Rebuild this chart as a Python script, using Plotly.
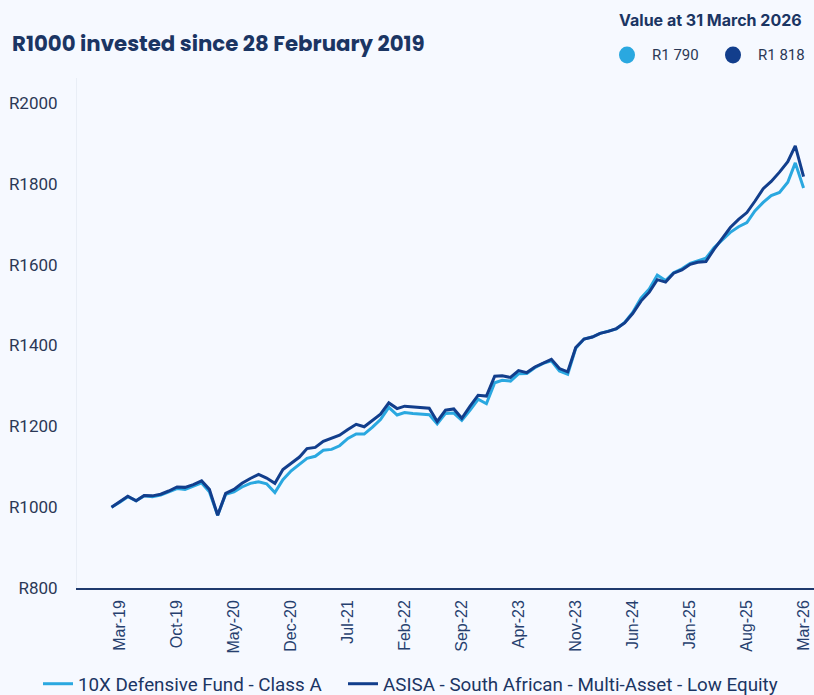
import pandas as pd
import plotly.graph_objects as go

# Month-end dates, Feb 2019 .. Mar 2026
dates = pd.date_range("2019-02-28", "2026-03-31", freq="ME")

fund_10x = [1000, 1012, 1026, 1016, 1028, 1026, 1030, 1037, 1046, 1044,
            1052, 1060, 1038, 980, 1032, 1038, 1050, 1059, 1063, 1058,
            1036, 1068, 1090, 1106, 1121, 1126, 1141, 1143, 1152, 1170,
            1181, 1181, 1198, 1217, 1247, 1228, 1234, 1232, 1230, 1229,
            1206, 1232, 1233, 1215, 1240, 1267, 1256, 1308, 1314, 1312,
            1330, 1331, 1345, 1356, 1362, 1337, 1329, 1393, 1416, 1421,
            1430, 1436, 1441, 1457, 1482, 1517, 1540, 1574, 1561, 1580,
            1590, 1603, 1610, 1616, 1642, 1661, 1680, 1694, 1704, 1733,
            1754, 1771, 1779, 1804, 1852, 1790]

asisa = [1000, 1013, 1027, 1016, 1029, 1028, 1032, 1040, 1050, 1049,
         1056, 1065, 1044, 980, 1034, 1044, 1059, 1071, 1081, 1072,
         1059, 1093, 1108, 1124, 1145, 1148, 1163, 1170, 1178, 1192,
         1205, 1199, 1215, 1230, 1258, 1244, 1250, 1248, 1246, 1245,
         1212, 1240, 1243, 1220, 1250, 1277, 1275, 1324, 1325, 1321,
         1338, 1333, 1347, 1357, 1366, 1343, 1335, 1395, 1416, 1421,
         1430, 1435, 1442, 1456, 1479, 1510, 1532, 1563, 1557, 1579,
         1587, 1601, 1606, 1608, 1638, 1665, 1692, 1712, 1729, 1757,
         1788, 1806, 1829, 1855, 1894, 1818]

series_names = ["10X Defensive Fund - Class A",
                "ASISA - South African - Multi-Asset - Low Equity"]
final_labels = ["R1 790", "R1 818"]

x_tick_labels = ["Mar-19", "Oct-19", "May-20", "Dec-20", "Jul-21", "Feb-22",
                 "Sep-22", "Apr-23", "Nov-23", "Jun-24", "Jan-25", "Aug-25",
                 "Mar-26"]
x_tick_vals = [dates[1 + 7 * k] for k in range(len(x_tick_labels))]

y_tick_vals = [800, 1000, 1200, 1400, 1600, 1800, 2000]
y_tick_labels = ["R800", "R1000", "R1200", "R1400", "R1600", "R1800", "R2000"]

LIGHT = "#2AA8E0"
DARK = "#123E8C"
NAVY = "#1B3563"
BG = "#F6F9FF"

fig = go.Figure()
fig.add_trace(go.Scatter(x=dates, y=fund_10x, mode="lines", name=series_names[0],
                         line=dict(color=LIGHT, width=3), legend="legend"))
fig.add_trace(go.Scatter(x=dates, y=asisa, mode="lines", name=series_names[1],
                         line=dict(color=DARK, width=3), legend="legend2"))

leg_common = dict(orientation="h", xanchor="left", xref="container",
                  y=1 - 684 / 695, yanchor="middle", yref="container",
                  font=dict(family="Roboto", size=18.8, color=NAVY),
                  itemwidth=30, bgcolor="rgba(0,0,0,0)")

fig.update_layout(
    width=814, height=695,
    paper_bgcolor=BG, plot_bgcolor=BG,
    margin=dict(l=77, r=0, t=78, b=107, autoexpand=False),
    showlegend=True,
    legend=dict(x=38 / 814, **leg_common),
    legend2=dict(x=343 / 814, **leg_common),
    xaxis=dict(
        type="date",
        range=["2018-10-22", "2026-05-09"],
        tickvals=x_tick_vals, ticktext=x_tick_labels,
        tickangle=-90, showgrid=False, zeroline=False,
        showline=True, linecolor="#1F3A6E", linewidth=1.5,
        ticks="", ticklabelstandoff=4,
        tickfont=dict(family="Liberation Sans, Arial", size=16, color="#26406E"),
    ),
    yaxis=dict(
        range=[800, 2062],
        tickvals=y_tick_vals, ticktext=y_tick_labels,
        showgrid=False, zeroline=False,
        showline=True, linecolor="#E9EEF6", linewidth=1,
        ticks="", ticklabelstandoff=15,
        tickfont=dict(family="Roboto", size=17, color="#2B3856"),
    ),
    font=dict(family="Roboto", color=NAVY),
)

# Title
fig.add_annotation(text="<b>R1000 invested since 28 February 2019</b>",
                   xref="paper", yref="paper", x=-77/737, y=1 + (78 - 43) / 510,
                   xanchor="left", yanchor="middle", showarrow=False,
                   xshift=10,
                   font=dict(family="Poppins, Inter, Noto Sans", size=21.3, color=NAVY))

# Header on right
fig.add_annotation(text="<b>Value at 31 March 2026</b>",
                   xref="paper", yref="paper", x=(804 - 77) / 737, y=1 + (78 - 20) / 510,
                   xanchor="right", yanchor="middle", showarrow=False,
                   font=dict(family="Inter, Noto Sans", size=16, color=NAVY))

for cx, tx, col, lab in [(627, 650, LIGHT, final_labels[0]),
                         (733, 756, DARK, final_labels[1])]:
    fig.add_shape(type="circle", xref="paper", yref="paper",
                  xsizemode="pixel", ysizemode="pixel",
                  xanchor=(cx - 77) / 737, yanchor=1 + (78 - 55) / 510,
                  x0=-8, x1=8, y0=-8.5, y1=8.5,
                  fillcolor=col, line=dict(width=0))
    fig.add_annotation(text=lab, xref="paper", yref="paper",
                       x=(tx - 77) / 737, y=1 + (78 - 55) / 510,
                       xanchor="left", yanchor="middle", showarrow=False,
                       font=dict(family="Roboto", size=15, color="#2B3856"))

fig.write_html("out.html",
               config={"displayModeBar": False},
               post_script="document.body.style.margin='0';"
                           "document.body.style.overflow='hidden';")
